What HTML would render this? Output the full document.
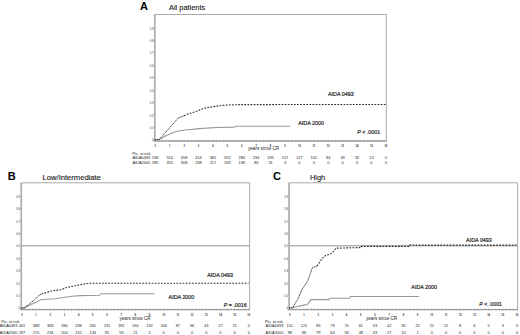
<!DOCTYPE html><html><head><meta charset="utf-8"><style>html,body{margin:0;padding:0;background:#fff;width:520px;height:335px;overflow:hidden}svg{display:block}text{font-family:"Liberation Sans", sans-serif}</style></head><body>
<svg width="520" height="335" viewBox="0 0 520 335">
<rect width="520" height="335" fill="#fff"/>
<g><path d="M154.8 14.5H386.3V141" fill="none" stroke="#a0a0a0" stroke-width="0.9"/><path d="M154.8 14.5V141" fill="none" stroke="#b0b0b0" stroke-width="1.6"/><path d="M153.3 141H386.3" fill="none" stroke="#a0a0a0" stroke-width="1.4"/><path d="M155.3 139.8v2.4M158.9 139.8v1.92M162.51 139.8v1.92M166.11 139.8v1.92M169.71 139.8v2.4M173.31 139.8v1.92M176.92 139.8v1.92M180.52 139.8v1.92M184.12 139.8v2.4M187.72 139.8v1.92M191.33 139.8v1.92M194.93 139.8v1.92M198.53 139.8v2.4M202.13 139.8v1.92M205.74 139.8v1.92M209.34 139.8v1.92M212.94 139.8v2.4M216.54 139.8v1.92M220.15 139.8v1.92M223.75 139.8v1.92M227.35 139.8v2.4M230.95 139.8v1.92M234.56 139.8v1.92M238.16 139.8v1.92M241.76 139.8v2.4M245.36 139.8v1.92M248.97 139.8v1.92M252.57 139.8v1.92M256.17 139.8v2.4M259.77 139.8v1.92M263.38 139.8v1.92M266.98 139.8v1.92M270.58 139.8v2.4M274.18 139.8v1.92M277.79 139.8v1.92M281.39 139.8v1.92M284.99 139.8v2.4M288.59 139.8v1.92M292.2 139.8v1.92M295.8 139.8v1.92M299.4 139.8v2.4M303 139.8v1.92M306.61 139.8v1.92M310.21 139.8v1.92M313.81 139.8v2.4M317.41 139.8v1.92M321.01 139.8v1.92M324.62 139.8v1.92M328.22 139.8v2.4M331.82 139.8v1.92M335.43 139.8v1.92M339.03 139.8v1.92M342.63 139.8v2.4M346.23 139.8v1.92M349.84 139.8v1.92M353.44 139.8v1.92M357.04 139.8v2.4M360.64 139.8v1.92M364.25 139.8v1.92M367.85 139.8v1.92M371.45 139.8v2.4M375.05 139.8v1.92M378.65 139.8v1.92M382.26 139.8v1.92M385.86 139.8v2.4" stroke="#888" stroke-width="0.5"/><path d="M153.2 139.8h2.56M153.8 137.32h1.6M153.8 134.83h1.6M153.8 132.35h1.6M153.8 129.86h1.6M153.2 127.38h2.56M153.8 124.9h1.6M153.8 122.41h1.6M153.8 119.93h1.6M153.8 117.44h1.6M153.2 114.96h2.56M153.8 112.48h1.6M153.8 109.99h1.6M153.8 107.51h1.6M153.8 105.02h1.6M153.2 102.54h2.56M153.8 100.06h1.6M153.8 97.57h1.6M153.8 95.09h1.6M153.8 92.6h1.6M153.2 90.12h2.56M153.8 87.64h1.6M153.8 85.15h1.6M153.8 82.67h1.6M153.8 80.18h1.6M153.2 77.7h2.56M153.8 75.22h1.6M153.8 72.73h1.6M153.8 70.25h1.6M153.8 67.76h1.6M153.2 65.28h2.56M153.8 62.8h1.6M153.8 60.31h1.6M153.8 57.83h1.6M153.8 55.34h1.6M153.2 52.86h2.56M153.8 50.38h1.6M153.8 47.89h1.6M153.8 45.41h1.6M153.8 42.92h1.6M153.2 40.44h2.56M153.8 37.96h1.6M153.8 35.47h1.6M153.8 32.99h1.6M153.8 30.5h1.6M153.2 28.02h2.56M153.8 25.54h1.6M153.8 23.05h1.6M153.8 20.57h1.6M153.8 18.08h1.6M153.2 15.6h2.56" stroke="#999" stroke-width="0.45"/><text x="153.6" y="141.35" font-size="2.75" fill="#3a3a3a" text-anchor="end">0</text><text x="153.6" y="128.93" font-size="2.75" fill="#3a3a3a" text-anchor="end">0.1</text><text x="153.6" y="116.51" font-size="2.75" fill="#3a3a3a" text-anchor="end">0.2</text><text x="153.6" y="104.09" font-size="2.75" fill="#3a3a3a" text-anchor="end">0.3</text><text x="153.6" y="91.67" font-size="2.75" fill="#3a3a3a" text-anchor="end">0.4</text><text x="153.6" y="79.25" font-size="2.75" fill="#3a3a3a" text-anchor="end">0.5</text><text x="153.6" y="66.83" font-size="2.75" fill="#3a3a3a" text-anchor="end">0.6</text><text x="153.6" y="54.41" font-size="2.75" fill="#3a3a3a" text-anchor="end">0.7</text><text x="153.6" y="41.99" font-size="2.75" fill="#3a3a3a" text-anchor="end">0.8</text><text x="153.6" y="29.57" font-size="2.75" fill="#3a3a3a" text-anchor="end">0.9</text><text x="155.3" y="147.2" font-size="2.6" fill="#333" font-weight="bold" text-anchor="middle">0</text><text x="169.71" y="147.2" font-size="2.6" fill="#333" font-weight="bold" text-anchor="middle">1</text><text x="184.12" y="147.2" font-size="2.6" fill="#333" font-weight="bold" text-anchor="middle">2</text><text x="198.53" y="147.2" font-size="2.6" fill="#333" font-weight="bold" text-anchor="middle">3</text><text x="212.94" y="147.2" font-size="2.6" fill="#333" font-weight="bold" text-anchor="middle">4</text><text x="227.35" y="147.2" font-size="2.6" fill="#333" font-weight="bold" text-anchor="middle">5</text><text x="241.76" y="147.2" font-size="2.6" fill="#333" font-weight="bold" text-anchor="middle">6</text><text x="256.17" y="147.2" font-size="2.6" fill="#333" font-weight="bold" text-anchor="middle">7</text><text x="270.58" y="147.2" font-size="2.6" fill="#333" font-weight="bold" text-anchor="middle">8</text><text x="284.99" y="147.2" font-size="2.6" fill="#333" font-weight="bold" text-anchor="middle">9</text><text x="299.4" y="147.2" font-size="2.6" fill="#333" font-weight="bold" text-anchor="middle">10</text><text x="313.81" y="147.2" font-size="2.6" fill="#333" font-weight="bold" text-anchor="middle">11</text><text x="328.22" y="147.2" font-size="2.6" fill="#333" font-weight="bold" text-anchor="middle">12</text><text x="342.63" y="147.2" font-size="2.6" fill="#333" font-weight="bold" text-anchor="middle">13</text><text x="357.04" y="147.2" font-size="2.6" fill="#333" font-weight="bold" text-anchor="middle">14</text><text x="371.45" y="147.2" font-size="2.6" fill="#333" font-weight="bold" text-anchor="middle">15</text><text x="385.86" y="147.2" font-size="2.6" fill="#333" font-weight="bold" text-anchor="middle">16</text><polyline points="154.8,139.8 159.4,139.4 164.5,136.6 169.8,134 173,132.6 177.2,131.2 180,130.7 186.3,129.8 192.6,129.4 198.9,128.6 205,128.2 210,127.9 217.3,127.5 234.6,127.1 236,126.3 290.2,126.3" fill="none" stroke="#999" stroke-width="1.1"/><polyline points="154.8,139.8 159.4,139.4 178.4,117.8 184,115.8" fill="none" stroke="#2a2a2a" stroke-width="0.95" stroke-dasharray="1.4 0.7"/><polyline points="184,115.8 188.5,113.8 193,112.5 197.6,110.9 203.9,108.3 209,107.3 215.4,106.3 221,105.5 227,105 240,104.6 385.8,104.5" fill="none" stroke="#2a2a2a" stroke-width="1.1" stroke-dasharray="1.7 1.4"/><text x="140" y="10.2" font-size="11" font-weight="bold" fill="#000">A</text><text x="169" y="10.3" font-size="7.4" fill="#111" stroke="#111" stroke-width="0.1">All patients</text><text x="328" y="96.4" font-size="5.4" fill="#222" stroke="#222" stroke-width="0.18">AIDA 0493</text><text x="298.2" y="124.9" font-size="5.4" fill="#222" stroke="#222" stroke-width="0.18">AIDA 2000</text><text x="357.3" y="133.8" font-size="5.3" fill="#222" stroke="#222" stroke-width="0.18"><tspan font-style="italic">P</tspan> < .0001</text><text x="248" y="150.1" font-size="4.6" fill="#222">years since CR</text><text x="132.2" y="154.8" font-size="3.9" fill="#1a1a1a">Pts. at risk</text><text x="132.4" y="158.8" font-size="3.9" fill="#1a1a1a">AIDA0493</text><text x="132.4" y="163.6" font-size="3.9" fill="#1a1a1a">AIDA2000</text><text x="155.3" y="158.8" font-size="3.9" fill="#1a1a1a" text-anchor="middle">594</text><text x="155.3" y="163.6" font-size="3.9" fill="#1a1a1a" text-anchor="middle">395</text><text x="169.71" y="158.8" font-size="3.9" fill="#1a1a1a" text-anchor="middle">510</text><text x="169.71" y="163.6" font-size="3.9" fill="#1a1a1a" text-anchor="middle">355</text><text x="184.12" y="158.8" font-size="3.9" fill="#1a1a1a" text-anchor="middle">458</text><text x="184.12" y="163.6" font-size="3.9" fill="#1a1a1a" text-anchor="middle">308</text><text x="198.53" y="158.8" font-size="3.9" fill="#1a1a1a" text-anchor="middle">414</text><text x="198.53" y="163.6" font-size="3.9" fill="#1a1a1a" text-anchor="middle">268</text><text x="212.94" y="158.8" font-size="3.9" fill="#1a1a1a" text-anchor="middle">365</text><text x="212.94" y="163.6" font-size="3.9" fill="#1a1a1a" text-anchor="middle">217</text><text x="227.35" y="158.8" font-size="3.9" fill="#1a1a1a" text-anchor="middle">322</text><text x="227.35" y="163.6" font-size="3.9" fill="#1a1a1a" text-anchor="middle">183</text><text x="241.76" y="158.8" font-size="3.9" fill="#1a1a1a" text-anchor="middle">284</text><text x="241.76" y="163.6" font-size="3.9" fill="#1a1a1a" text-anchor="middle">138</text><text x="256.17" y="158.8" font-size="3.9" fill="#1a1a1a" text-anchor="middle">234</text><text x="256.17" y="163.6" font-size="3.9" fill="#1a1a1a" text-anchor="middle">86</text><text x="270.58" y="158.8" font-size="3.9" fill="#1a1a1a" text-anchor="middle">195</text><text x="270.58" y="163.6" font-size="3.9" fill="#1a1a1a" text-anchor="middle">31</text><text x="284.99" y="158.8" font-size="3.9" fill="#1a1a1a" text-anchor="middle">157</text><text x="284.99" y="163.6" font-size="3.9" fill="#1a1a1a" text-anchor="middle">3</text><text x="299.4" y="158.8" font-size="3.9" fill="#1a1a1a" text-anchor="middle">127</text><text x="299.4" y="163.6" font-size="3.9" fill="#1a1a1a" text-anchor="middle">0</text><text x="313.81" y="158.8" font-size="3.9" fill="#1a1a1a" text-anchor="middle">102</text><text x="313.81" y="163.6" font-size="3.9" fill="#1a1a1a" text-anchor="middle">0</text><text x="328.22" y="158.8" font-size="3.9" fill="#1a1a1a" text-anchor="middle">84</text><text x="328.22" y="163.6" font-size="3.9" fill="#1a1a1a" text-anchor="middle">0</text><text x="342.63" y="158.8" font-size="3.9" fill="#1a1a1a" text-anchor="middle">49</text><text x="342.63" y="163.6" font-size="3.9" fill="#1a1a1a" text-anchor="middle">0</text><text x="357.04" y="158.8" font-size="3.9" fill="#1a1a1a" text-anchor="middle">32</text><text x="357.04" y="163.6" font-size="3.9" fill="#1a1a1a" text-anchor="middle">0</text><text x="371.45" y="158.8" font-size="3.9" fill="#1a1a1a" text-anchor="middle">13</text><text x="371.45" y="163.6" font-size="3.9" fill="#1a1a1a" text-anchor="middle">0</text><text x="385.86" y="158.8" font-size="3.9" fill="#1a1a1a" text-anchor="middle">0</text><text x="385.86" y="163.6" font-size="3.9" fill="#1a1a1a" text-anchor="middle">0</text></g>
<g><path d="M21.3 182.8H249.6V309.6" fill="none" stroke="#a0a0a0" stroke-width="0.9"/><path d="M21.3 182.8V309.6" fill="none" stroke="#b0b0b0" stroke-width="1.6"/><path d="M19.8 309.6H249.6" fill="none" stroke="#a0a0a0" stroke-width="1.4"/><path d="M21.9 308.4v2.4M25.45 308.4v1.92M28.99 308.4v1.92M32.53 308.4v1.92M36.08 308.4v2.4M39.62 308.4v1.92M43.17 308.4v1.92M46.71 308.4v1.92M50.26 308.4v2.4M53.8 308.4v1.92M57.35 308.4v1.92M60.89 308.4v1.92M64.44 308.4v2.4M67.98 308.4v1.92M71.53 308.4v1.92M75.07 308.4v1.92M78.62 308.4v2.4M82.16 308.4v1.92M85.71 308.4v1.92M89.25 308.4v1.92M92.8 308.4v2.4M96.34 308.4v1.92M99.89 308.4v1.92M103.44 308.4v1.92M106.98 308.4v2.4M110.53 308.4v1.92M114.07 308.4v1.92M117.62 308.4v1.92M121.16 308.4v2.4M124.7 308.4v1.92M128.25 308.4v1.92M131.79 308.4v1.92M135.34 308.4v2.4M138.88 308.4v1.92M142.43 308.4v1.92M145.97 308.4v1.92M149.52 308.4v2.4M153.06 308.4v1.92M156.61 308.4v1.92M160.16 308.4v1.92M163.7 308.4v2.4M167.25 308.4v1.92M170.79 308.4v1.92M174.34 308.4v1.92M177.88 308.4v2.4M181.43 308.4v1.92M184.97 308.4v1.92M188.52 308.4v1.92M192.06 308.4v2.4M195.6 308.4v1.92M199.15 308.4v1.92M202.69 308.4v1.92M206.24 308.4v2.4M209.78 308.4v1.92M213.33 308.4v1.92M216.88 308.4v1.92M220.42 308.4v2.4M223.97 308.4v1.92M227.51 308.4v1.92M231.06 308.4v1.92M234.6 308.4v2.4M238.15 308.4v1.92M241.69 308.4v1.92M245.24 308.4v1.92M248.78 308.4v2.4" stroke="#888" stroke-width="0.5"/><path d="M19.7 307.9h2.56M20.3 305.42h1.6M20.3 302.94h1.6M20.3 300.45h1.6M20.3 297.97h1.6M19.7 295.49h2.56M20.3 293.01h1.6M20.3 290.53h1.6M20.3 288.04h1.6M20.3 285.56h1.6M19.7 283.08h2.56M20.3 280.6h1.6M20.3 278.12h1.6M20.3 275.63h1.6M20.3 273.15h1.6M19.7 270.67h2.56M20.3 268.19h1.6M20.3 265.71h1.6M20.3 263.22h1.6M20.3 260.74h1.6M19.7 258.26h2.56M20.3 255.78h1.6M20.3 253.3h1.6M20.3 250.81h1.6M20.3 248.33h1.6M19.7 245.85h2.56M20.3 243.37h1.6M20.3 240.89h1.6M20.3 238.4h1.6M20.3 235.92h1.6M19.7 233.44h2.56M20.3 230.96h1.6M20.3 228.48h1.6M20.3 225.99h1.6M20.3 223.51h1.6M19.7 221.03h2.56M20.3 218.55h1.6M20.3 216.07h1.6M20.3 213.58h1.6M20.3 211.1h1.6M19.7 208.62h2.56M20.3 206.14h1.6M20.3 203.66h1.6M20.3 201.17h1.6M20.3 198.69h1.6M19.7 196.21h2.56M20.3 193.73h1.6M20.3 191.25h1.6M20.3 188.76h1.6M20.3 186.28h1.6M19.7 183.8h2.56" stroke="#999" stroke-width="0.45"/><text x="20" y="309.45" font-size="2.75" fill="#3a3a3a" text-anchor="end">0</text><text x="20" y="297.04" font-size="2.75" fill="#3a3a3a" text-anchor="end">0.1</text><text x="20" y="284.63" font-size="2.75" fill="#3a3a3a" text-anchor="end">0.2</text><text x="20" y="272.22" font-size="2.75" fill="#3a3a3a" text-anchor="end">0.3</text><text x="20" y="259.81" font-size="2.75" fill="#3a3a3a" text-anchor="end">0.4</text><text x="20" y="247.4" font-size="2.75" fill="#3a3a3a" text-anchor="end">0.5</text><text x="20" y="234.99" font-size="2.75" fill="#3a3a3a" text-anchor="end">0.6</text><text x="20" y="222.58" font-size="2.75" fill="#3a3a3a" text-anchor="end">0.7</text><text x="20" y="210.17" font-size="2.75" fill="#3a3a3a" text-anchor="end">0.8</text><text x="20" y="197.76" font-size="2.75" fill="#3a3a3a" text-anchor="end">0.9</text><text x="21.9" y="315.6" font-size="2.6" fill="#333" font-weight="bold" text-anchor="middle">0</text><text x="36.08" y="315.6" font-size="2.6" fill="#333" font-weight="bold" text-anchor="middle">1</text><text x="50.26" y="315.6" font-size="2.6" fill="#333" font-weight="bold" text-anchor="middle">2</text><text x="64.44" y="315.6" font-size="2.6" fill="#333" font-weight="bold" text-anchor="middle">3</text><text x="78.62" y="315.6" font-size="2.6" fill="#333" font-weight="bold" text-anchor="middle">4</text><text x="92.8" y="315.6" font-size="2.6" fill="#333" font-weight="bold" text-anchor="middle">5</text><text x="106.98" y="315.6" font-size="2.6" fill="#333" font-weight="bold" text-anchor="middle">6</text><text x="121.16" y="315.6" font-size="2.6" fill="#333" font-weight="bold" text-anchor="middle">7</text><text x="135.34" y="315.6" font-size="2.6" fill="#333" font-weight="bold" text-anchor="middle">8</text><text x="149.52" y="315.6" font-size="2.6" fill="#333" font-weight="bold" text-anchor="middle">9</text><text x="163.7" y="315.6" font-size="2.6" fill="#333" font-weight="bold" text-anchor="middle">10</text><text x="177.88" y="315.6" font-size="2.6" fill="#333" font-weight="bold" text-anchor="middle">11</text><text x="192.06" y="315.6" font-size="2.6" fill="#333" font-weight="bold" text-anchor="middle">12</text><text x="206.24" y="315.6" font-size="2.6" fill="#333" font-weight="bold" text-anchor="middle">13</text><text x="220.42" y="315.6" font-size="2.6" fill="#333" font-weight="bold" text-anchor="middle">14</text><text x="234.6" y="315.6" font-size="2.6" fill="#333" font-weight="bold" text-anchor="middle">15</text><text x="248.78" y="315.6" font-size="2.6" fill="#333" font-weight="bold" text-anchor="middle">16</text><path d="M21.3 245.75H249.6" stroke="#b4b4b4" stroke-width="1.3"/><polyline points="21.3,307.9 24.3,307.9 27,306.5 30.4,304.8 35.6,302.6 39,300.6 40.5,299.7 54.6,298.8 60,298 66.7,297 72,296.3 80.6,295.6 99.6,295.3 101,293.7 154.6,293.7" fill="none" stroke="#999" stroke-width="1.1"/><polyline points="21.3,307.9 24.3,307.9 27,305.8 30.4,303.1 33,301 35.6,298.8 39,295.3 41.5,294.1" fill="none" stroke="#2a2a2a" stroke-width="0.95" stroke-dasharray="1.4 0.7"/><polyline points="41.5,294.1 44.2,293.2 49.4,291.5 55,290.5 61.5,289.8 63,288.9 66.7,287.5 71,286.6 75.4,285.8 80,284.8 84,284 90,283.3 248.5,283.2" fill="none" stroke="#2a2a2a" stroke-width="1.1" stroke-dasharray="1.7 1.4"/><text x="7.8" y="180" font-size="11" font-weight="bold" fill="#000">B</text><text x="42.6" y="180.3" font-size="7.6" fill="#111" stroke="#111" stroke-width="0.1">Low/Intermediate</text><text x="207.2" y="276.8" font-size="5.4" fill="#222" stroke="#222" stroke-width="0.18">AIDA 0493</text><text x="168.6" y="298.9" font-size="5.4" fill="#222" stroke="#222" stroke-width="0.18">AIDA 2000</text><text x="223.8" y="306.5" font-size="5.3" fill="#222" stroke="#222" stroke-width="0.18"><tspan font-style="italic">P</tspan> = .0016</text><text x="119.5" y="319.8" font-size="4.6" fill="#222">years since CR</text><text x="1.2" y="322.5" font-size="3.9" fill="#1a1a1a">Pts. at risk</text><text x="-0.3" y="326.9" font-size="3.9" fill="#1a1a1a">AIDA0493</text><text x="-0.3" y="333.5" font-size="3.9" fill="#1a1a1a">AIDA2000</text><text x="21.9" y="326.9" font-size="3.9" fill="#1a1a1a" text-anchor="middle">441</text><text x="21.9" y="333.5" font-size="3.9" fill="#1a1a1a" text-anchor="middle">297</text><text x="36.08" y="326.9" font-size="3.9" fill="#1a1a1a" text-anchor="middle">388</text><text x="36.08" y="333.5" font-size="3.9" fill="#1a1a1a" text-anchor="middle">270</text><text x="50.26" y="326.9" font-size="3.9" fill="#1a1a1a" text-anchor="middle">363</text><text x="50.26" y="333.5" font-size="3.9" fill="#1a1a1a" text-anchor="middle">234</text><text x="64.44" y="326.9" font-size="3.9" fill="#1a1a1a" text-anchor="middle">330</text><text x="64.44" y="333.5" font-size="3.9" fill="#1a1a1a" text-anchor="middle">204</text><text x="78.62" y="326.9" font-size="3.9" fill="#1a1a1a" text-anchor="middle">296</text><text x="78.62" y="333.5" font-size="3.9" fill="#1a1a1a" text-anchor="middle">162</text><text x="92.8" y="326.9" font-size="3.9" fill="#1a1a1a" text-anchor="middle">261</text><text x="92.8" y="333.5" font-size="3.9" fill="#1a1a1a" text-anchor="middle">134</text><text x="106.98" y="326.9" font-size="3.9" fill="#1a1a1a" text-anchor="middle">231</text><text x="106.98" y="333.5" font-size="3.9" fill="#1a1a1a" text-anchor="middle">95</text><text x="121.16" y="326.9" font-size="3.9" fill="#1a1a1a" text-anchor="middle">192</text><text x="121.16" y="333.5" font-size="3.9" fill="#1a1a1a" text-anchor="middle">59</text><text x="135.34" y="326.9" font-size="3.9" fill="#1a1a1a" text-anchor="middle">160</text><text x="135.34" y="333.5" font-size="3.9" fill="#1a1a1a" text-anchor="middle">21</text><text x="149.52" y="326.9" font-size="3.9" fill="#1a1a1a" text-anchor="middle">132</text><text x="149.52" y="333.5" font-size="3.9" fill="#1a1a1a" text-anchor="middle">2</text><text x="163.7" y="326.9" font-size="3.9" fill="#1a1a1a" text-anchor="middle">106</text><text x="163.7" y="333.5" font-size="3.9" fill="#1a1a1a" text-anchor="middle">0</text><text x="177.88" y="326.9" font-size="3.9" fill="#1a1a1a" text-anchor="middle">87</text><text x="177.88" y="333.5" font-size="3.9" fill="#1a1a1a" text-anchor="middle">0</text><text x="192.06" y="326.9" font-size="3.9" fill="#1a1a1a" text-anchor="middle">66</text><text x="192.06" y="333.5" font-size="3.9" fill="#1a1a1a" text-anchor="middle">0</text><text x="206.24" y="326.9" font-size="3.9" fill="#1a1a1a" text-anchor="middle">43</text><text x="206.24" y="333.5" font-size="3.9" fill="#1a1a1a" text-anchor="middle">0</text><text x="220.42" y="326.9" font-size="3.9" fill="#1a1a1a" text-anchor="middle">27</text><text x="220.42" y="333.5" font-size="3.9" fill="#1a1a1a" text-anchor="middle">0</text><text x="234.6" y="326.9" font-size="3.9" fill="#1a1a1a" text-anchor="middle">15</text><text x="234.6" y="333.5" font-size="3.9" fill="#1a1a1a" text-anchor="middle">0</text><text x="248.78" y="326.9" font-size="3.9" fill="#1a1a1a" text-anchor="middle">0</text><text x="248.78" y="333.5" font-size="3.9" fill="#1a1a1a" text-anchor="middle">0</text></g>
<g><path d="M289.1 182.8H517.6V309.6" fill="none" stroke="#a0a0a0" stroke-width="0.9"/><path d="M289.1 182.8V309.6" fill="none" stroke="#b0b0b0" stroke-width="1.6"/><path d="M287.6 309.6H517.6" fill="none" stroke="#a0a0a0" stroke-width="1.4"/><path d="M289.8 308.4v2.4M293.35 308.4v1.92M296.9 308.4v1.92M300.45 308.4v1.92M304 308.4v2.4M307.55 308.4v1.92M311.1 308.4v1.92M314.65 308.4v1.92M318.2 308.4v2.4M321.75 308.4v1.92M325.3 308.4v1.92M328.85 308.4v1.92M332.4 308.4v2.4M335.95 308.4v1.92M339.5 308.4v1.92M343.05 308.4v1.92M346.6 308.4v2.4M350.15 308.4v1.92M353.7 308.4v1.92M357.25 308.4v1.92M360.8 308.4v2.4M364.35 308.4v1.92M367.9 308.4v1.92M371.45 308.4v1.92M375 308.4v2.4M378.55 308.4v1.92M382.1 308.4v1.92M385.65 308.4v1.92M389.2 308.4v2.4M392.75 308.4v1.92M396.3 308.4v1.92M399.85 308.4v1.92M403.4 308.4v2.4M406.95 308.4v1.92M410.5 308.4v1.92M414.05 308.4v1.92M417.6 308.4v2.4M421.15 308.4v1.92M424.7 308.4v1.92M428.25 308.4v1.92M431.8 308.4v2.4M435.35 308.4v1.92M438.9 308.4v1.92M442.45 308.4v1.92M446 308.4v2.4M449.55 308.4v1.92M453.1 308.4v1.92M456.65 308.4v1.92M460.2 308.4v2.4M463.75 308.4v1.92M467.3 308.4v1.92M470.85 308.4v1.92M474.4 308.4v2.4M477.95 308.4v1.92M481.5 308.4v1.92M485.05 308.4v1.92M488.6 308.4v2.4M492.15 308.4v1.92M495.7 308.4v1.92M499.25 308.4v1.92M502.8 308.4v2.4M506.35 308.4v1.92M509.9 308.4v1.92M513.45 308.4v1.92M517 308.4v2.4" stroke="#888" stroke-width="0.5"/><path d="M287.5 307.9h2.56M288.1 305.42h1.6M288.1 302.94h1.6M288.1 300.45h1.6M288.1 297.97h1.6M287.5 295.49h2.56M288.1 293.01h1.6M288.1 290.53h1.6M288.1 288.04h1.6M288.1 285.56h1.6M287.5 283.08h2.56M288.1 280.6h1.6M288.1 278.12h1.6M288.1 275.63h1.6M288.1 273.15h1.6M287.5 270.67h2.56M288.1 268.19h1.6M288.1 265.71h1.6M288.1 263.22h1.6M288.1 260.74h1.6M287.5 258.26h2.56M288.1 255.78h1.6M288.1 253.3h1.6M288.1 250.81h1.6M288.1 248.33h1.6M287.5 245.85h2.56M288.1 243.37h1.6M288.1 240.89h1.6M288.1 238.4h1.6M288.1 235.92h1.6M287.5 233.44h2.56M288.1 230.96h1.6M288.1 228.48h1.6M288.1 225.99h1.6M288.1 223.51h1.6M287.5 221.03h2.56M288.1 218.55h1.6M288.1 216.07h1.6M288.1 213.58h1.6M288.1 211.1h1.6M287.5 208.62h2.56M288.1 206.14h1.6M288.1 203.66h1.6M288.1 201.17h1.6M288.1 198.69h1.6M287.5 196.21h2.56M288.1 193.73h1.6M288.1 191.25h1.6M288.1 188.76h1.6M288.1 186.28h1.6M287.5 183.8h2.56" stroke="#999" stroke-width="0.45"/><text x="288" y="309.45" font-size="2.75" fill="#3a3a3a" text-anchor="end">0</text><text x="288" y="297.04" font-size="2.75" fill="#3a3a3a" text-anchor="end">0.1</text><text x="288" y="284.63" font-size="2.75" fill="#3a3a3a" text-anchor="end">0.2</text><text x="288" y="272.22" font-size="2.75" fill="#3a3a3a" text-anchor="end">0.3</text><text x="288" y="259.81" font-size="2.75" fill="#3a3a3a" text-anchor="end">0.4</text><text x="288" y="247.4" font-size="2.75" fill="#3a3a3a" text-anchor="end">0.5</text><text x="288" y="234.99" font-size="2.75" fill="#3a3a3a" text-anchor="end">0.6</text><text x="288" y="222.58" font-size="2.75" fill="#3a3a3a" text-anchor="end">0.7</text><text x="288" y="210.17" font-size="2.75" fill="#3a3a3a" text-anchor="end">0.8</text><text x="288" y="197.76" font-size="2.75" fill="#3a3a3a" text-anchor="end">0.9</text><text x="289.8" y="315.6" font-size="2.6" fill="#333" font-weight="bold" text-anchor="middle">0</text><text x="304" y="315.6" font-size="2.6" fill="#333" font-weight="bold" text-anchor="middle">1</text><text x="318.2" y="315.6" font-size="2.6" fill="#333" font-weight="bold" text-anchor="middle">2</text><text x="332.4" y="315.6" font-size="2.6" fill="#333" font-weight="bold" text-anchor="middle">3</text><text x="346.6" y="315.6" font-size="2.6" fill="#333" font-weight="bold" text-anchor="middle">4</text><text x="360.8" y="315.6" font-size="2.6" fill="#333" font-weight="bold" text-anchor="middle">5</text><text x="375" y="315.6" font-size="2.6" fill="#333" font-weight="bold" text-anchor="middle">6</text><text x="389.2" y="315.6" font-size="2.6" fill="#333" font-weight="bold" text-anchor="middle">7</text><text x="403.4" y="315.6" font-size="2.6" fill="#333" font-weight="bold" text-anchor="middle">8</text><text x="417.6" y="315.6" font-size="2.6" fill="#333" font-weight="bold" text-anchor="middle">9</text><text x="431.8" y="315.6" font-size="2.6" fill="#333" font-weight="bold" text-anchor="middle">10</text><text x="446" y="315.6" font-size="2.6" fill="#333" font-weight="bold" text-anchor="middle">11</text><text x="460.2" y="315.6" font-size="2.6" fill="#333" font-weight="bold" text-anchor="middle">12</text><text x="474.4" y="315.6" font-size="2.6" fill="#333" font-weight="bold" text-anchor="middle">13</text><text x="488.6" y="315.6" font-size="2.6" fill="#333" font-weight="bold" text-anchor="middle">14</text><text x="502.8" y="315.6" font-size="2.6" fill="#333" font-weight="bold" text-anchor="middle">15</text><text x="517" y="315.6" font-size="2.6" fill="#333" font-weight="bold" text-anchor="middle">16</text><path d="M289.1 245.75H517.6" stroke="#b4b4b4" stroke-width="1.3"/><polyline points="289.1,307.9 292.8,307.7 296.6,306.8 300.4,305.9 302.8,305.4 305.2,304.9 308.1,303.9 310.8,299.6 328.8,299.6 329.8,298.3 349.4,298.3 350.5,296.5 419.2,296.5" fill="none" stroke="#999" stroke-width="1.1"/><polyline points="289.1,307.9 292.8,307.7 295.6,302.5 297.7,299.5 302.2,289.2 307.9,280.7 309.6,275.6 312.4,267.7 317,266" fill="none" stroke="#2a2a2a" stroke-width="0.95" stroke-dasharray="1.4 0.7"/><polyline points="317,266 319.8,262 322.8,257.8 326,255.2 329.8,254.4 333,252.1 336,248.2 346,247.9 360,247.6 360.3,246.4 409.2,246.4 409.5,245.1 517.6,245.1" fill="none" stroke="#2a2a2a" stroke-width="1.1" stroke-dasharray="1.7 1.4"/><text x="272.9" y="180.2" font-size="11" font-weight="bold" fill="#000">C</text><text x="310" y="180.2" font-size="7.4" fill="#111" stroke="#111" stroke-width="0.1">High</text><text x="466.1" y="242.1" font-size="5.4" fill="#222" stroke="#222" stroke-width="0.18">AIDA 0493</text><text x="411.3" y="288.7" font-size="5.4" fill="#222" stroke="#222" stroke-width="0.18">AIDA 2000</text><text x="479.2" y="305.6" font-size="5.3" fill="#222" stroke="#222" stroke-width="0.18"><tspan font-style="italic">P</tspan> < .0001</text><text x="366" y="319.5" font-size="4.6" fill="#222">years since CR</text><text x="264.9" y="322.5" font-size="3.9" fill="#1a1a1a">Pts. at risk</text><text x="265.6" y="326.9" font-size="3.9" fill="#1a1a1a">AIDA0493</text><text x="265.6" y="333.5" font-size="3.9" fill="#1a1a1a">AIDA2000</text><text x="289.8" y="326.9" font-size="3.9" fill="#1a1a1a" text-anchor="middle">151</text><text x="289.8" y="333.5" font-size="3.9" fill="#1a1a1a" text-anchor="middle">98</text><text x="304" y="326.9" font-size="3.9" fill="#1a1a1a" text-anchor="middle">121</text><text x="304" y="333.5" font-size="3.9" fill="#1a1a1a" text-anchor="middle">88</text><text x="318.2" y="326.9" font-size="3.9" fill="#1a1a1a" text-anchor="middle">93</text><text x="318.2" y="333.5" font-size="3.9" fill="#1a1a1a" text-anchor="middle">79</text><text x="332.4" y="326.9" font-size="3.9" fill="#1a1a1a" text-anchor="middle">79</text><text x="332.4" y="333.5" font-size="3.9" fill="#1a1a1a" text-anchor="middle">64</text><text x="346.6" y="326.9" font-size="3.9" fill="#1a1a1a" text-anchor="middle">70</text><text x="346.6" y="333.5" font-size="3.9" fill="#1a1a1a" text-anchor="middle">58</text><text x="360.8" y="326.9" font-size="3.9" fill="#1a1a1a" text-anchor="middle">61</text><text x="360.8" y="333.5" font-size="3.9" fill="#1a1a1a" text-anchor="middle">48</text><text x="375" y="326.9" font-size="3.9" fill="#1a1a1a" text-anchor="middle">53</text><text x="375" y="333.5" font-size="3.9" fill="#1a1a1a" text-anchor="middle">43</text><text x="389.2" y="326.9" font-size="3.9" fill="#1a1a1a" text-anchor="middle">42</text><text x="389.2" y="333.5" font-size="3.9" fill="#1a1a1a" text-anchor="middle">27</text><text x="403.4" y="326.9" font-size="3.9" fill="#1a1a1a" text-anchor="middle">35</text><text x="403.4" y="333.5" font-size="3.9" fill="#1a1a1a" text-anchor="middle">10</text><text x="417.6" y="326.9" font-size="3.9" fill="#1a1a1a" text-anchor="middle">25</text><text x="417.6" y="333.5" font-size="3.9" fill="#1a1a1a" text-anchor="middle">1</text><text x="431.8" y="326.9" font-size="3.9" fill="#1a1a1a" text-anchor="middle">21</text><text x="431.8" y="333.5" font-size="3.9" fill="#1a1a1a" text-anchor="middle">0</text><text x="446" y="326.9" font-size="3.9" fill="#1a1a1a" text-anchor="middle">15</text><text x="446" y="333.5" font-size="3.9" fill="#1a1a1a" text-anchor="middle">0</text><text x="460.2" y="326.9" font-size="3.9" fill="#1a1a1a" text-anchor="middle">8</text><text x="460.2" y="333.5" font-size="3.9" fill="#1a1a1a" text-anchor="middle">0</text><text x="474.4" y="326.9" font-size="3.9" fill="#1a1a1a" text-anchor="middle">6</text><text x="474.4" y="333.5" font-size="3.9" fill="#1a1a1a" text-anchor="middle">0</text><text x="488.6" y="326.9" font-size="3.9" fill="#1a1a1a" text-anchor="middle">5</text><text x="488.6" y="333.5" font-size="3.9" fill="#1a1a1a" text-anchor="middle">0</text><text x="502.8" y="326.9" font-size="3.9" fill="#1a1a1a" text-anchor="middle">3</text><text x="502.8" y="333.5" font-size="3.9" fill="#1a1a1a" text-anchor="middle">0</text><text x="517" y="326.9" font-size="3.9" fill="#1a1a1a" text-anchor="middle">0</text><text x="517" y="333.5" font-size="3.9" fill="#1a1a1a" text-anchor="middle">0</text></g>
</svg></body></html>
